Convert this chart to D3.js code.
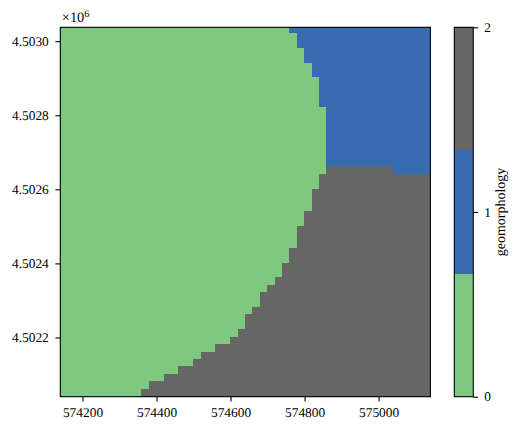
<!DOCTYPE html>
<html>
<head>
<meta charset="utf-8">
<script src="https://cdn.jsdelivr.net/npm/d3@7/dist/d3.min.js"></script>
<style>
html,body{margin:0;padding:0;background:#fff;overflow:hidden}
text{font-family:"Liberation Serif",serif;fill:#000;text-rendering:geometricPrecision}
</style>
</head>
<body>
<svg id="chart" width="518" height="430"></svg>
<script>
// Cell grid: 20 m cells, rows listed from the bottom of the map to the top.
const xTicks = [574200, 574400, 574600, 574800, 575000];
const yTicks = [4502200, 4502400, 4502600, 4502800, 4503000];
const colorTicks = [0, 1, 2];
const classColors = ["#7fc97f", "#386cb0", "#666666"];
const colorbarLabel = "geomorphology";

// number of green cells (class 0) in each row
const greenCells = [11,12,14,16,18,19,21,23,24,25,25,26,27,27,28,29,30,30,31,31,
                    32,32,32,33,33,34,34,34,35,35,36,36,36,36,36,36,36,36,36,35,
                    35,35,35,34,34,33,33,32,32,31];
// index where the grey cells (class 2) stop in each row; the rest of the row is blue (class 1)
const greyEnd = [50,50,50,50,50,50,50,50,50,50,50,50,50,50,50,50,50,50,50,50,
                 50,50,50,50,50,50,50,50,50,50,45,36,36,36,36,36,36,36,36,35,
                 35,35,35,34,34,33,33,32,32,31];

const cellSize = 20, nCols = 50;
const xExtent = [574140, 575140];
const yExtent = [4502040, 4503037.5];
const colOrigin = 574139;
const rowOrigin = 4502042;

const svg = d3.select("#chart");
const plot = {left: 60.3, right: 430.4, top: 27.3, bottom: 396.7};
const bar = {left: 454.3, right: 473.3};

const x = d3.scaleLinear().domain(xExtent).range([plot.left, plot.right]).clamp(true);
const y = d3.scaleLinear().domain(yExtent).range([plot.bottom, plot.top]).clamp(true);
const c = d3.scaleLinear().domain([0, 2]).range([plot.bottom, plot.top]);

// Merge each row of cells into runs of one class
const runs = greenCells.flatMap((g, k) => {
  const e = greyEnd[k];
  const parts = [{k, cls: 0, c0: 0, c1: g}];
  if (e > g) parts.push({k, cls: 2, c0: g, c1: e});
  if (e < nCols) parts.push({k, cls: 1, c0: e, c1: nCols});
  return parts;
});
const rowEdge = k => k === 0 ? yExtent[0] : rowOrigin + k * cellSize;
const colEdge = i => i === nCols ? xExtent[1] : colOrigin + i * cellSize;

svg.append("g").selectAll("rect").data(runs).join("rect")
  .attr("x", d => x(colEdge(d.c0)))
  .attr("width", d => x(colEdge(d.c1)) - x(colEdge(d.c0)))
  .attr("y", d => y(rowEdge(d.k + 1)))
  .attr("height", d => y(rowEdge(d.k)) - y(rowEdge(d.k + 1)))
  .attr("fill", d => classColors[d.cls])
  .attr("shape-rendering", "crispEdges");

// Colourbar bands
const nBands = classColors.length;
svg.append("g").selectAll("rect").data(classColors).join("rect")
  .attr("x", bar.left)
  .attr("width", bar.right - bar.left)
  .attr("y", (d, i) => c((i + 1) * 2 / nBands))
  .attr("height", (d, i) => c(i * 2 / nBands) - c((i + 1) * 2 / nBands))
  .attr("fill", d => d)
  .attr("shape-rendering", "crispEdges");

// Frames
const frame = (x0, x1) => svg.append("rect")
  .attr("x", x0).attr("y", plot.top)
  .attr("width", x1 - x0).attr("height", plot.bottom - plot.top)
  .attr("fill", "none").attr("stroke", "#000").attr("stroke-width", 1.1);
frame(plot.left, plot.right);
frame(bar.left, bar.right);

// Axes
const styleAxis = (g, fontSize) => {
  g.select(".domain").remove();
  g.selectAll(".tick line").attr("stroke", "#000").attr("stroke-width", 1.1);
  g.selectAll(".tick text").attr("font-family", '"Liberation Serif", serif')
    .attr("font-size", fontSize).attr("fill", "#000");
};

svg.append("g").attr("transform", `translate(0,${plot.bottom})`)
  .call(d3.axisBottom(x).tickValues(xTicks).tickFormat(d3.format("d")).tickSize(4.9).tickPadding(6))
  .call(styleAxis, 13.4);

svg.append("g").attr("transform", `translate(${plot.left},0)`)
  .call(d3.axisLeft(y).tickValues(yTicks).tickFormat(d => (d / 1e6).toFixed(4)).tickSize(4.9).tickPadding(6.6))
  .call(styleAxis, 13.4);

svg.append("g").attr("transform", `translate(${bar.right},0)`)
  .call(d3.axisRight(c).tickValues(colorTicks).tickFormat(d3.format("d")).tickSize(4.9).tickPadding(6))
  .call(styleAxis, 13.4);

// Offset text
const offset = svg.append("text").attr("x", plot.left + 1.5).attr("y", 22).attr("font-size", 14.4);
offset.append("tspan").text("×10");
offset.append("tspan").attr("dy", -4.8).attr("font-size", 10).text("6");

// Colourbar label
svg.append("text")
  .attr("transform", `translate(505,${c(1)}) rotate(-90)`)
  .attr("text-anchor", "middle")
  .attr("font-size", 14)
  .text(colorbarLabel);
</script>
</body>
</html>
